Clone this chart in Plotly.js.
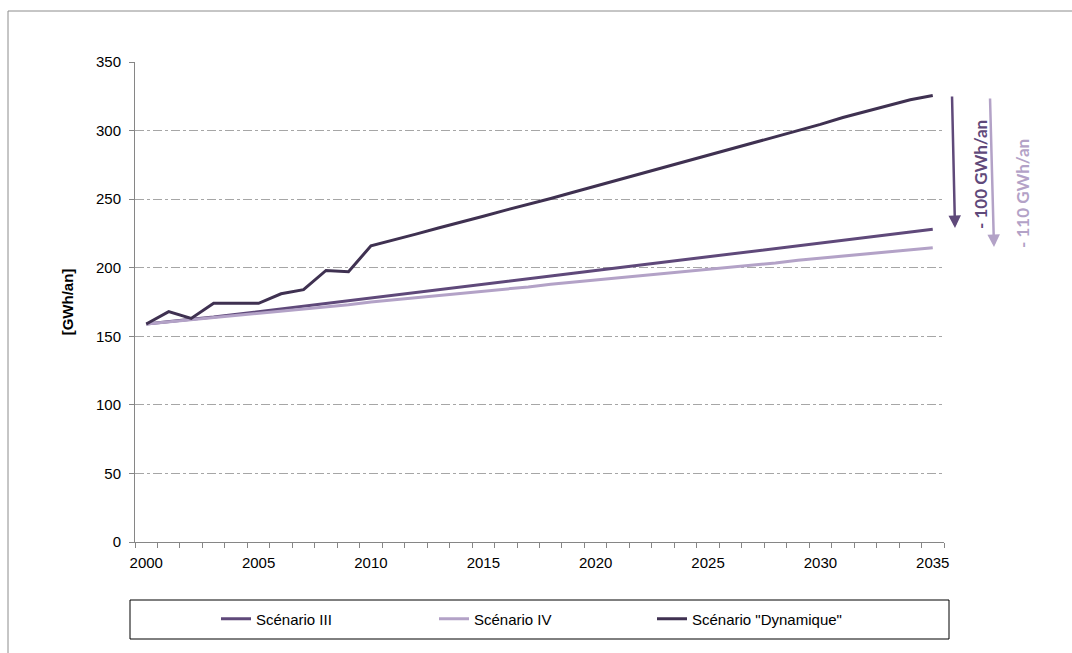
<!DOCTYPE html>
<html>
<head>
<meta charset="utf-8">
<script src="https://cdn.plot.ly/plotly-3.0.1.min.js"></script>
<style>html,body{margin:0;padding:0;background:#fff;}#chart{width:1072px;height:653px;}</style>
</head>
<body>
<div id="chart"></div>
<script>
var years = [];
for (var y = 2000; y <= 2035; y++) years.push(y);

var scenarioIII = [159, 161, 162.5, 164, 166, 168, 170, 172, 174, 176.5, 178.5, 180, 182, 184, 186, 188, 190, 192, 194, 196, 198, 200, 202, 204, 206, 208, 210, 212, 214, 216, 218, 220, 222, 224, 226, 228];
var scenarioIV = [159, 160.5, 162, 163.5, 165, 166.5, 168, 169.5, 171, 173, 175, 176.5, 178, 179.5, 181, 183, 184.5, 186, 188, 189.5, 191, 192.5, 194, 196, 197.5, 199, 200.5, 202, 203.5, 205.5, 207, 208.5, 210, 211.5, 213, 214.5];
var scenarioDyn = [159, 168, 163, 174, 174, 174, 181, 184, 198, 197, 216, 220, 224.5, 229, 233, 237.5, 242, 246, 250.5, 255, 259.5, 264, 268, 272.5, 277, 281.5, 286, 290.5, 295, 300, 304.5, 309.5, 314, 318.5, 322.5, 325.5];

var seriesNames = ['Scénario III', 'Scénario IV', 'Scénario "Dynamique"'];
var tickYears = [2000, 2005, 2010, 2015, 2020, 2025, 2030, 2035];
var yTicks = [0, 50, 100, 150, 200, 250, 300, 350];
var arrowLabels = ['- 100 GWh/an', '- 110 GWh/an'];

var colIII = '#5f497a', colIV = '#b3a2c7', colDyn = '#3f3151';
var font = 'Liberation Sans, Arial, sans-serif';

var traces = [
  {x: years, y: scenarioIII, name: seriesNames[0], mode: 'lines', line: {color: colIII, width: 3}},
  {x: years, y: scenarioIV, name: seriesNames[1], mode: 'lines', line: {color: colIV, width: 3}},
  {x: years, y: scenarioDyn, name: seriesNames[2], mode: 'lines', line: {color: colDyn, width: 3}}
];

var L = 135, R = 944, T = 62, B = 542;
var W = R - L, H = B - T;
function px(xp) { return (xp - L) / W; }
function py(yp) { return (B - yp) / H; }

var layout = {
  width: 1072, height: 653,
  margin: {l: L, r: 1072 - R, t: T, b: 653 - B},
  paper_bgcolor: '#fff', plot_bgcolor: '#fff',
  font: {family: font, size: 15, color: '#000'},
  showlegend: true,
  legend: {
    orientation: 'h', x: px(216), y: py(619), xanchor: 'left', yanchor: 'middle',
    font: {family: font, size: 15, color: '#000'},
    entrywidth: 173, bgcolor: 'rgba(0,0,0,0)', borderwidth: 0
  },
  xaxis: {
    range: [1999.5, 2035.5],
    tickvals: tickYears, ticktext: tickYears.map(String),
    ticks: '', showgrid: false, zeroline: false,
    showline: true, linecolor: '#868686', linewidth: 1,
    tickfont: {family: font, size: 15, color: '#000'},
    ticklabelstandoff: 7,
    minor: {tick0: 1999.5, dtick: 1, ticks: 'outside', ticklen: 5, tickcolor: '#868686', showgrid: false}
  },
  yaxis: {
    range: [0, 350], tickvals: yTicks,
    ticks: 'outside', ticklen: 5, tickcolor: '#868686',
    showline: true, linecolor: '#868686', linewidth: 1,
    showgrid: true, gridcolor: '#a6a6a6', gridwidth: 1, griddash: 'dashdot',
    zeroline: false,
    tickfont: {family: font, size: 15, color: '#000'},
    ticklabelstandoff: 5,
    title: {text: '<b>[GWh/an]</b>', font: {family: font, size: 15, color: '#000'}, standoff: 18}
  },
  shapes: [
    {type: 'rect', xref: 'paper', yref: 'paper', x0: px(8), x1: px(1085), y0: py(11), y1: py(665),
     line: {color: '#8c8c8c', width: 1}, fillcolor: 'rgba(0,0,0,0)', layer: 'below'},
    {type: 'rect', xref: 'paper', yref: 'paper', x0: px(130), x1: px(949), y0: py(600), y1: py(639),
     line: {color: '#000', width: 1}, fillcolor: 'rgba(0,0,0,0)'}
  ],
  annotations: [
    {xref: 'paper', yref: 'paper', x: px(955), y: py(228), ax: -3, ay: -133,
     showarrow: true, arrowhead: 2, arrowsize: 1, arrowwidth: 2.5, arrowcolor: colIII, text: ''},
    {xref: 'paper', yref: 'paper', x: px(994), y: py(247), ax: -4, ay: -150,
     showarrow: true, arrowhead: 2, arrowsize: 1, arrowwidth: 2.5, arrowcolor: colIV, text: ''},
    {xref: 'paper', yref: 'paper', x: px(980), y: py(175), xanchor: 'center', yanchor: 'middle',
     showarrow: false, textangle: -90,
     text: '<b>' + arrowLabels[0] + '</b>', font: {family: 'Lato, Open Sans, sans-serif', size: 17, color: colIII}},
    {xref: 'paper', yref: 'paper', x: px(1022), y: py(194), xanchor: 'center', yanchor: 'middle',
     showarrow: false, textangle: -90,
     text: '<b>' + arrowLabels[1] + '</b>', font: {family: 'Lato, Open Sans, sans-serif', size: 17, color: colIV}}
  ]
};

Plotly.newPlot('chart', traces, layout, {displayModeBar: false, staticPlot: true});
</script>
</body>
</html>
